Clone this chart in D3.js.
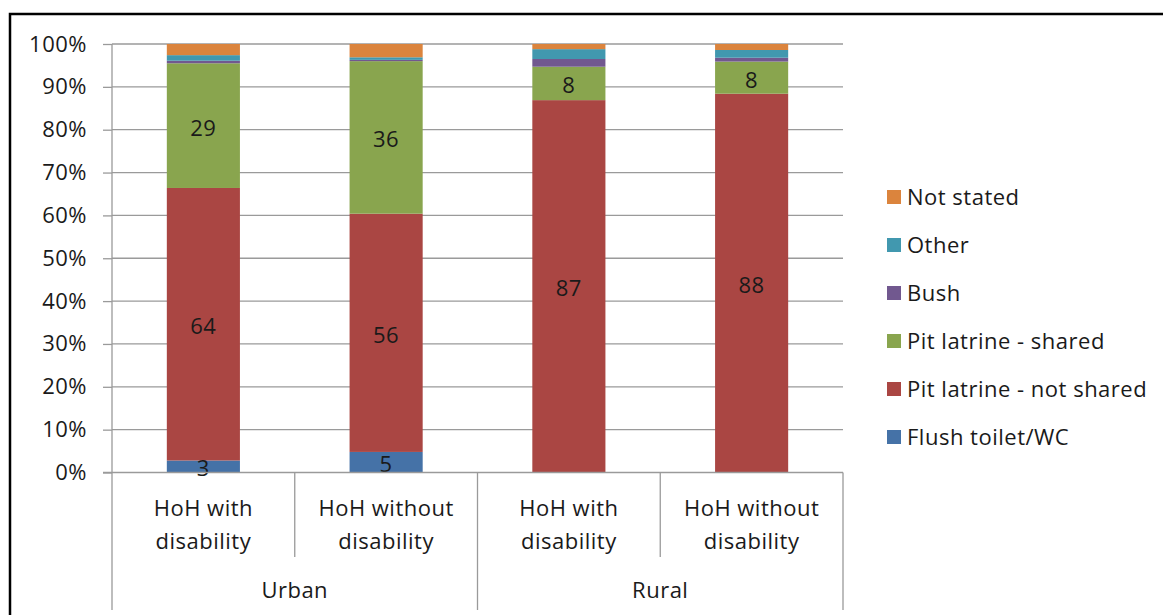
<!DOCTYPE html>
<html>
<head>
<meta charset="utf-8">
<script src="https://cdn.jsdelivr.net/npm/d3@7"></script>
<style>
  html, body { margin: 0; padding: 0; background: #fff; }
  svg { display: block; }
  text { font-family: "Open Sans", Lato, sans-serif; fill: #1a1a1a; letter-spacing: 0.5px; }
</style>
</head>
<body>
<svg id="chart" width="1163" height="615"></svg>
<script>
// ---- data ----
const groups = ["Urban", "Rural"];
const subLabels = [["HoH with", "disability"], ["HoH without", "disability"]];
const categories = ["Urban|HoH with disability", "Urban|HoH without disability",
                    "Rural|HoH with disability", "Rural|HoH without disability"];
const seriesNames = ["Flush toilet/WC", "Pit latrine - not shared", "Pit latrine - shared",
                     "Bush", "Other", "Not stated"];
const flushToilet = [2.8, 4.8, 0, 0];
const pitNotShared = [63.6, 55.6, 86.9, 88.4];
const pitShared = [29.1, 35.6, 7.8, 7.5];
const bush = [0.6, 0.3, 1.8, 0.9];
const other = [1.3, 0.6, 2.3, 1.8];
const notStated = [2.6, 3.1, 1.2, 1.4];
const colors = ["#4572A7", "#AA4643", "#89A54E", "#71588F", "#4198AF", "#DB843D"];
const yTicks = [0, 10, 20, 30, 40, 50, 60, 70, 80, 90, 100];
const labelledSeries = ["Flush toilet/WC", "Pit latrine - not shared", "Pit latrine - shared"];

const seriesValues = [flushToilet, pitNotShared, pitShared, bush, other, notStated];
const rows = categories.map((c, i) => {
  const r = { cat: c };
  seriesNames.forEach((s, j) => { r[s] = seriesValues[j][i]; });
  return r;
});

// ---- layout ----
const svg = d3.select("#chart");
const plotLeft = 112, plotRight = 843, plotTop = 44, plotBottom = 472.5;
const gridColor = "#9a9a9a";
const fs = 22;

const y = d3.scaleLinear().domain([0, 100]).range([plotBottom, plotTop]);
const x = d3.scaleBand().domain(categories).range([plotLeft, plotRight])
  .paddingInner(0.6).paddingOuter(0.3);
const color = d3.scaleOrdinal().domain(seriesNames).range(colors);

// outer frame (top and left edges visible)
svg.append("path")
  .attr("d", "M10,615 V14 H1163")
  .attr("fill", "none").attr("stroke", "#000").attr("stroke-width", 2.5);

// gridlines
svg.append("g").selectAll("line").data(yTicks.filter(t => t > 0)).join("line")
  .attr("x1", plotLeft).attr("x2", plotRight)
  .attr("y1", d => y(d)).attr("y2", d => y(d))
  .attr("stroke", gridColor).attr("stroke-width", 1.3);

// y axis
const yAxis = svg.append("g").attr("transform", `translate(${plotLeft},0)`)
  .call(d3.axisLeft(y).tickValues(yTicks).tickFormat(d => d + "%").tickSize(9).tickPadding(16));
yAxis.select(".domain").remove();
yAxis.selectAll(".tick line").attr("stroke", gridColor).attr("stroke-width", 1.3);
yAxis.selectAll(".tick text").attr("font-size", fs).attr("fill", "#1a1a1a")
  .attr("font-family", "\"Open Sans\", Lato, sans-serif");
svg.append("line").attr("x1", plotLeft).attr("x2", plotLeft)
  .attr("y1", plotTop).attr("y2", 610)
  .attr("stroke", gridColor).attr("stroke-width", 1.3);

// bars
const stack = d3.stack().keys(seriesNames);
const stacked = stack(rows);
const barG = svg.append("g");
stacked.forEach(layer => {
  barG.append("g").attr("fill", color(layer.key))
    .selectAll("rect").data(layer).join("rect")
    .attr("x", d => x(d.data.cat))
    .attr("width", x.bandwidth())
    .attr("y", d => y(d[1]))
    .attr("height", d => y(d[0]) - y(d[1]));
});

// data labels
stacked.filter(l => labelledSeries.includes(l.key)).forEach(layer => {
  barG.append("g").selectAll("text")
    .data(layer.filter(d => d[1] - d[0] >= 2.5)).join("text")
    .attr("x", d => x(d.data.cat) + x.bandwidth() / 2)
    .attr("y", d => (y(d[0]) + y(d[1])) / 2 + 2)
    .attr("dy", "0.36em")
    .attr("text-anchor", "middle")
    .attr("font-size", fs)
    .text(d => Math.round(d[1] - d[0]));
});

// x axis baseline
svg.append("line").attr("x1", plotLeft - 9).attr("x2", plotRight)
  .attr("y1", plotBottom).attr("y2", plotBottom)
  .attr("stroke", gridColor).attr("stroke-width", 1.3);

// category separators & labels
const step = x.step();
const innerSep = categories.map((c, i) => plotLeft + step * (i + 1)).filter((v, i) => i % 2 === 0);
const outerSep = categories.map((c, i) => plotLeft + step * (i + 1)).filter((v, i) => i % 2 === 1);
svg.append("g").selectAll("line").data(innerSep).join("line")
  .attr("x1", d => d).attr("x2", d => d).attr("y1", plotBottom).attr("y2", 557)
  .attr("stroke", gridColor).attr("stroke-width", 1.3);
svg.append("g").selectAll("line").data(outerSep).join("line")
  .attr("x1", d => d).attr("x2", d => d).attr("y1", plotBottom).attr("y2", 610)
  .attr("stroke", gridColor).attr("stroke-width", 1.3);

const catLabels = svg.append("g").selectAll("text").data(categories).join("text")
  .attr("text-anchor", "middle").attr("font-size", fs)
  .attr("x", d => x(d) + x.bandwidth() / 2)
  .attr("y", 516);
catLabels.each(function(d, i) {
  const lines = subLabels[i % 2];
  const t = d3.select(this);
  lines.forEach((ln, k) => {
    t.append("tspan").attr("x", x(d) + x.bandwidth() / 2).attr("dy", k === 0 ? 0 : 33).text(ln);
  });
});

svg.append("g").selectAll("text").data(groups).join("text")
  .attr("text-anchor", "middle").attr("font-size", fs)
  .attr("x", (d, i) => plotLeft + step * (2 * i + 1))
  .attr("y", 598)
  .text(d => d);

// legend
const legendOrder = seriesNames.slice().reverse();
const lg = svg.append("g").attr("transform", "translate(887,197)");
const li = lg.selectAll("g").data(legendOrder).join("g")
  .attr("transform", (d, i) => `translate(0,${i * 48})`);
li.append("rect").attr("x", 0).attr("y", -7).attr("width", 14).attr("height", 14)
  .attr("fill", d => color(d));
li.append("text").attr("x", 20).attr("dy", "0.36em").attr("font-size", fs).text(d => d);
</script>
</body>
</html>
